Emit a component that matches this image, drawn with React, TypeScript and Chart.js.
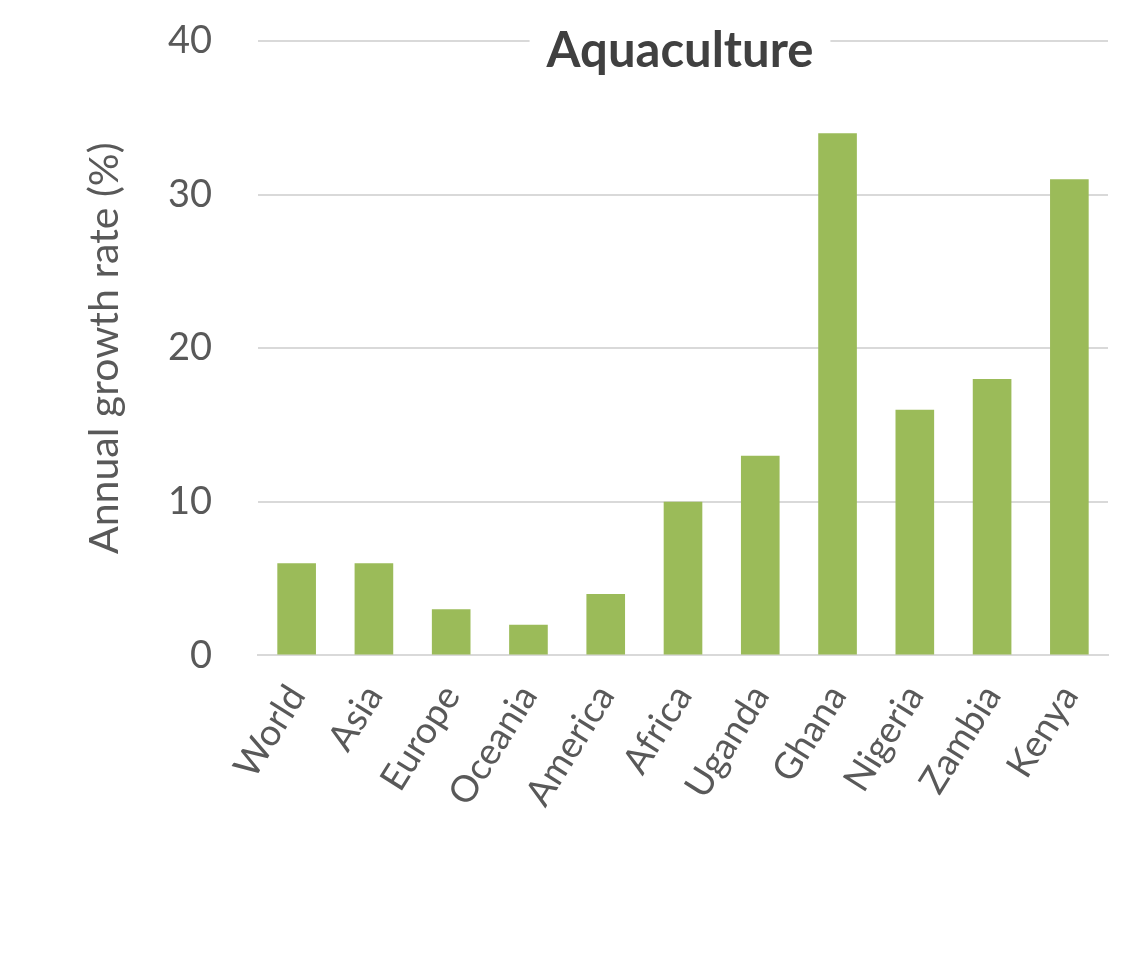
import React, { useEffect, useRef } from "react";
import { Chart, registerables } from "chart.js";

Chart.register(...registerables);

const categories = ["World", "Asia", "Europe", "Oceania", "America", "Africa", "Uganda", "Ghana", "Nigeria", "Zambia", "Kenya"];
const growthRates = [6, 6, 3, 2, 4, 10, 13, 34, 16, 18, 31];
const chartTitle = "Aquaculture";
const yAxisTitle = "Annual growth rate (%)";

const FONT = "Lato, 'Open Sans', sans-serif";

const insideTitle = {
  id: "insideTitle",
  afterDatasetsDraw(chart: any) {
    const { ctx, chartArea } = chart;
    ctx.save();
    ctx.font = `bold 49px ${FONT}`;
    const cx = (chartArea.left + chartArea.right) / 2 - 3;
    const w = ctx.measureText(chartTitle).width;
    ctx.fillStyle = "#ffffff";
    ctx.fillRect(cx - w / 2 - 17, chartArea.top - 6, w + 34, 12);
    ctx.fillStyle = "#404040";
    ctx.textAlign = "center";
    ctx.textBaseline = "alphabetic";
    ctx.fillText(chartTitle, cx, chartArea.top + 26);
    ctx.restore();
  },
};

export default function App() {
  const ref = useRef<HTMLCanvasElement | null>(null);
  useEffect(() => {
    document.body.style.margin = "0";
    const chart = new Chart(ref.current!, {
      type: "bar",
      data: {
        labels: categories,
        datasets: [
          {
            data: growthRates,
            backgroundColor: "#9BBB59",
            barPercentage: 0.5,
            categoryPercentage: 1,
          },
        ],
      },
      options: {
        animation: false,
        responsive: false,
        layout: { padding: { top: 41, right: 21, bottom: 139, left: 80 } },
        plugins: { legend: { display: false }, tooltip: { enabled: false }, title: { display: false } },
        scales: {
          x: {
            grid: { display: false, drawTicks: false },
            border: { display: true, color: "#D9D9D9", width: 2 },
            ticks: {
              color: "#595959",
              font: { family: FONT, size: 37 },
              minRotation: 58,
              maxRotation: 58,
              padding: 22,
              autoSkip: false,
            },
            afterFit: (scale: any) => {
              scale.paddingLeft = 0;
              scale.paddingRight = 0;
            },
          },
          y: {
            min: 0,
            max: 40,
            ticks: { stepSize: 10, color: "#595959", font: { family: FONT, size: 38 }, padding: 46 },
            grid: { color: "#D9D9D9", lineWidth: 2, drawTicks: false },
            border: { display: false },
            title: {
              display: true,
              text: yAxisTitle,
              color: "#595959",
              font: { family: FONT, size: 41 },
              padding: { top: 0, bottom: 0 },
            },
            afterFit: (scale: any) => {
              scale.paddingTop = 0;
              scale.paddingBottom = 0;
              scale.width = 178;
            },
          },
        },
      },
      plugins: [insideTitle],
    });
    return () => chart.destroy();
  }, []);
  return <canvas ref={ref} width={1129} height={975} style={{ display: "block" }} />;
}
